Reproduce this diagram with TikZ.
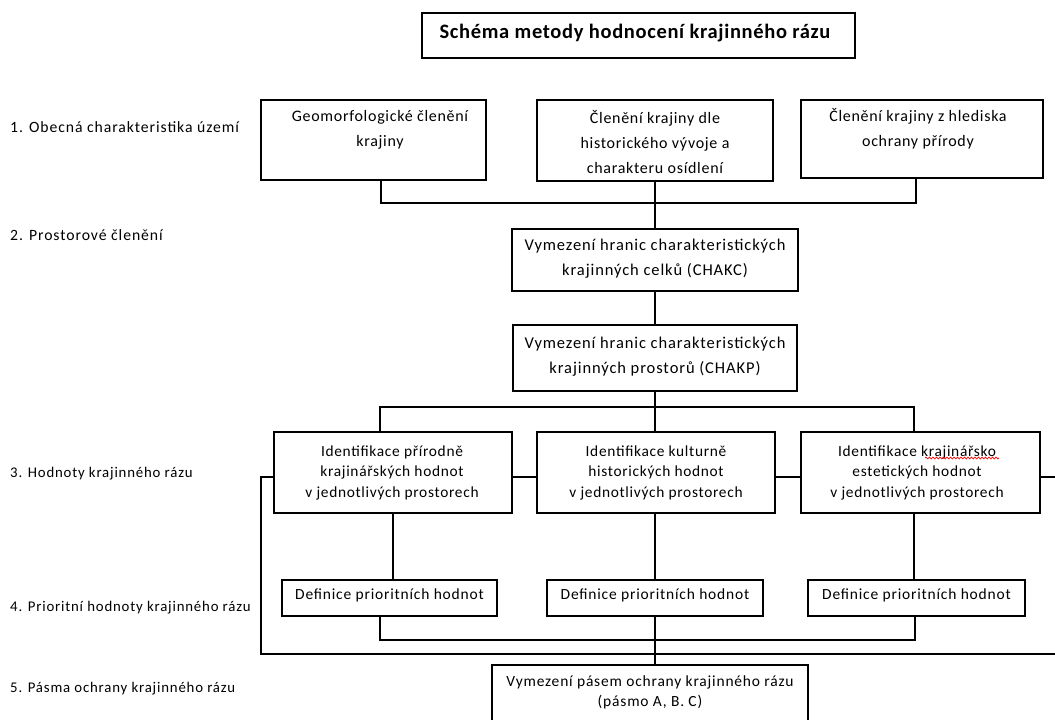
\documentclass[tikz,border=0pt]{standalone}
\usepackage{fontspec}
\setmainfont{Carlito}
\usetikzlibrary{decorations.pathmorphing}
\begin{document}
\begin{tikzpicture}[x=1pt,y=-1pt,
  box/.style={draw=black, line width=1.2pt, inner sep=0pt},
  ln/.style={draw=black, line width=1.2pt},
  big/.style={align=center, inner sep=0pt, font=\fontsize{16}{25}\selectfont\addfontfeatures{LetterSpace=4.4}},
  wide/.style={align=center, inner sep=0pt, font=\fontsize{16.5}{25}\selectfont\addfontfeatures{LetterSpace=5.5}},
  mid/.style={align=center, inner sep=0pt, font=\fontsize{15.4}{20.5}\selectfont\addfontfeatures{LetterSpace=4.5}},
  small/.style={align=center, inner sep=0pt, font=\fontsize{15.5}{20}\selectfont\addfontfeatures{LetterSpace=5.2}},
  labA/.style={anchor=west, inner sep=0pt, font=\fontsize{15.7}{18}\selectfont\addfontfeatures{LetterSpace=6}},
  labB/.style={anchor=west, inner sep=0pt, font=\fontsize{14.8}{17}\selectfont\addfontfeatures{LetterSpace=5.6}},
  squig/.style={draw=red, line width=0.7pt, decorate, decoration={snake, segment length=3.5pt, amplitude=0.9pt}}
]
\useasboundingbox (0,0) rectangle (1055,720);
\clip (0,0) rectangle (1055,720);

% title
\node[box, minimum width=433pt, minimum height=45pt] (T) at (638.5,35.5) {};
\node[inner sep=0pt, font=\fontsize{20.5}{24}\selectfont\bfseries\addfontfeatures{LetterSpace=3.3}] (Tt) at (635,33) {Schéma metody hodnocení krajinného rázu};

% row labels
\node[labA] (L1) at (10,127) {1. Obecná charakteristika území};
\node[labA] (L2) at (10,235) {2. Prostorové členění};
\node[labB] (L3) at (10,474) {3. Hodnoty krajinného rázu};
\node[labB] (L4) at (10,608) {4. Prioritní hodnoty krajinného rázu};
\node[labB] (L5) at (10,689) {5. Pásma ochrany krajinného rázu};

% row 1
\node[box, minimum width=225pt, minimum height=80pt] (A) at (373.5,140) {};
\node[big] (At) at (380,129.5) {Geomorfologické členění\\krajiny};
\node[box, minimum width=236pt, minimum height=81pt] (B) at (655,140.5) {};
\node[big] (Bt) at (655,142.5) {Členění krajiny dle\\historického vývoje a\\charakteru osídlení};
\node[box, minimum width=242pt, minimum height=78pt] (C) at (922,139) {};
\node[big] (Ct) at (918,128.5) {Členění krajiny z hlediska\\ochrany přírody};

% row 2
\node[box, minimum width=286pt, minimum height=62pt] (D) at (655,260) {};
\node[wide] (Dt) at (655,259) {Vymezení hranic charakteristických\\krajinných celků (CHAKC)};
\node[box, minimum width=284pt, minimum height=66pt] (E) at (655,358) {};
\node[wide] (Et) at (655,356.5) {Vymezení hranic charakteristických\\krajinných prostorů (CHAKP)};

% row 3
\node[box, minimum width=238pt, minimum height=81pt] (F1) at (393,472.5) {};
\node[mid] (F1t) at (392,472.5) {Identifikace přírodně\\krajinářských hodnot\\v jednotlivých prostorech};
\node[box, minimum width=238pt, minimum height=81pt] (F2) at (656,472.5) {};
\node[mid] (F2t) at (656,472.5) {Identifikace kulturně\\historických hodnot\\v jednotlivých prostorech};
\node[box, minimum width=239pt, minimum height=81pt] (F3) at (920.5,472.5) {};
\node[mid] (F3t) at (917,472.5) {Identifikace krajinářsko\\estetických hodnot\\v jednotlivých prostorech};
\draw[squig] (925,458) -- (999,458);

% row 4
\node[box, minimum width=215pt, minimum height=36pt] (G1) at (389.5,598) {};
\node[small] (G1t) at (389.5,595) {Definice prioritních hodnot};
\node[box, minimum width=216pt, minimum height=36pt] (G2) at (655,598) {};
\node[small] (G2t) at (655,595) {Definice prioritních hodnot};
\node[box, minimum width=217pt, minimum height=36pt] (G3) at (916.5,598) {};
\node[small] (G3t) at (916.5,595) {Definice prioritních hodnot};

% row 5
\node[box, minimum width=316pt, minimum height=70pt] (H) at (650,700) {};
\node[small] (Ht) at (650,692) {Vymezení pásem ochrany krajinného rázu\\(pásmo A, B. C)};

% junctions
\coordinate (j1) at (655,203);
\coordinate (j2) at (655,407);
\coordinate (j3) at (655,640);
\coordinate (lt) at (261,477);
\coordinate (lb) at (261,654);
\coordinate (rb) at (1062,654);
\coordinate (rt) at (1062,477);

% connectors
\draw[ln] ([xshift=7.5pt]A.south) |- (j1) -| ([xshift=-6pt]C.south);
\draw[ln] (B.south) -- (D.north);
\draw[ln] (D.south) -- (E.north);
\draw[ln] (E.south) -- (F2.north -| E.south);
\draw[ln] ([xshift=-13pt]F1.north) |- (j2) -| ([xshift=-6.5pt]F3.north);
\draw[ln] (F1.west |- lt) -- (lt) -- (lb) -- (rb) -- (rt) -- (F3.east |- rt);
\draw[ln] (F1.east |- lt) -- (F2.west |- lt);
\draw[ln] (F2.east |- lt) -- (F3.west |- lt);
\draw[ln] (F1.south) -- (F1.south |- G1.north);
\draw[ln] (F2.south -| G2.north) -- (G2.north);
\draw[ln] ([xshift=-6.5pt]F3.south) -- ([xshift=-6.5pt]F3.south |- G3.north);
\draw[ln] ([xshift=-9.5pt]G1.south) |- (j3) -| ([xshift=-1.5pt]G3.south);
\draw[ln] (G2.south) -- (G2.south |- H.north);
\end{tikzpicture}
\end{document}
